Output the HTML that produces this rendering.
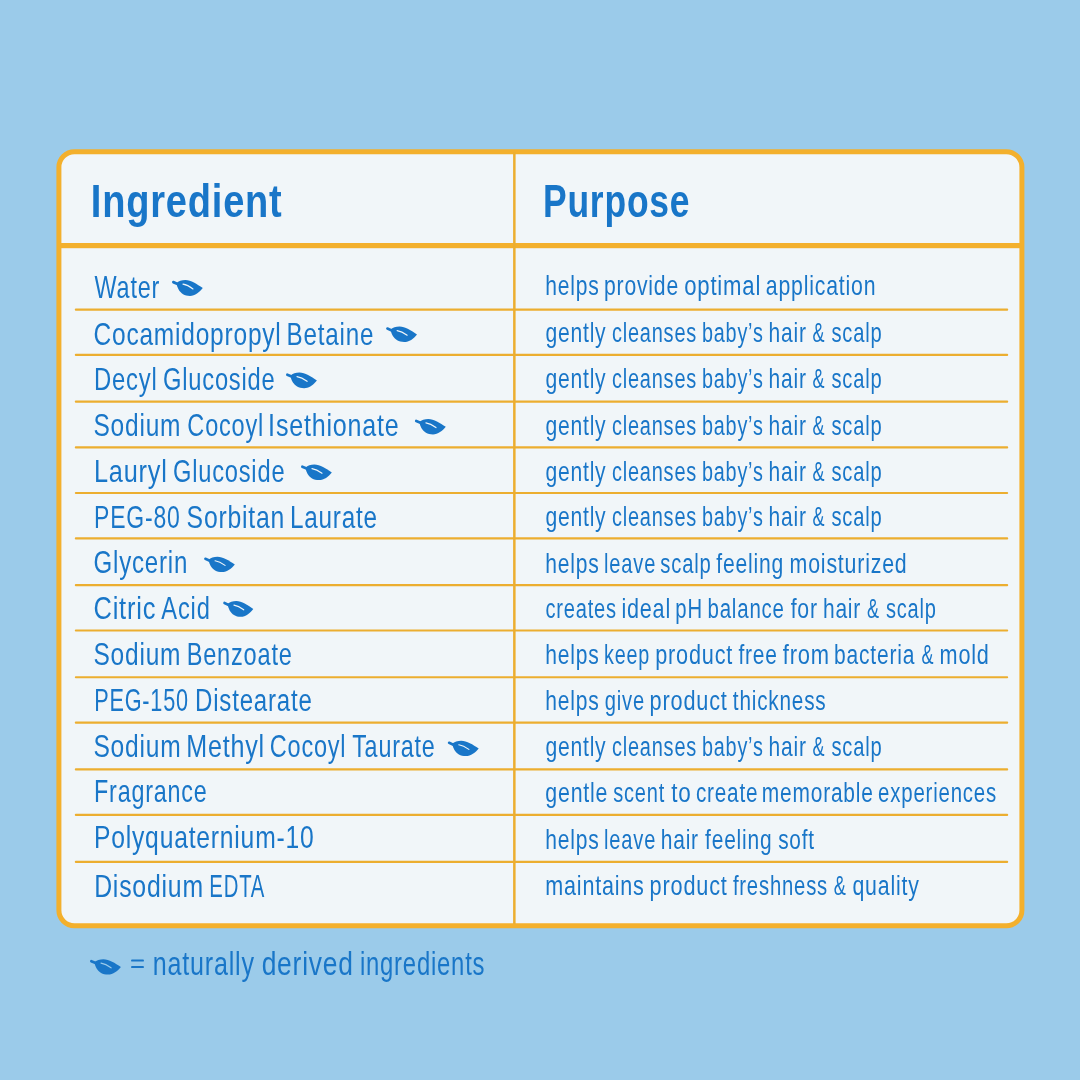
<!DOCTYPE html><html><head><meta charset="utf-8"><style>html,body{margin:0;padding:0;background:#9bcbea;width:1080px;height:1080px;overflow:hidden}svg{display:block;will-change:transform}text{font-family:"Liberation Sans",sans-serif}</style></head><body>
<svg width="1080" height="1080" viewBox="0 0 1080 1080">
<rect x="58.9" y="151.7" width="963" height="774" rx="15.5" ry="15.5" fill="#f1f6f9" stroke="#f3b02d" stroke-width="5"/>
<rect x="61" y="243" width="959" height="5.2" fill="#f3b02d"/>
<rect x="513.1" y="152" width="2.5" height="772" fill="#ecae30"/>
<rect x="74.8" y="308.62" width="933.4" height="2.15" rx="1" fill="#ecae30"/>
<rect x="74.8" y="353.82" width="933.4" height="2.15" rx="1" fill="#ecae30"/>
<rect x="74.8" y="400.62" width="933.4" height="2.15" rx="1" fill="#ecae30"/>
<rect x="74.8" y="446.32" width="933.4" height="2.15" rx="1" fill="#ecae30"/>
<rect x="74.8" y="491.93" width="933.4" height="2.15" rx="1" fill="#ecae30"/>
<rect x="74.8" y="537.32" width="933.4" height="2.15" rx="1" fill="#ecae30"/>
<rect x="74.8" y="584.02" width="933.4" height="2.15" rx="1" fill="#ecae30"/>
<rect x="74.8" y="629.42" width="933.4" height="2.15" rx="1" fill="#ecae30"/>
<rect x="74.8" y="676.22" width="933.4" height="2.15" rx="1" fill="#ecae30"/>
<rect x="74.8" y="721.62" width="933.4" height="2.15" rx="1" fill="#ecae30"/>
<rect x="74.8" y="768.32" width="933.4" height="2.15" rx="1" fill="#ecae30"/>
<rect x="74.8" y="813.82" width="933.4" height="2.15" rx="1" fill="#ecae30"/>
<rect x="74.8" y="860.82" width="933.4" height="2.15" rx="1" fill="#ecae30"/>
<text transform="translate(94.53 298.40) scale(0.7557 1)" font-size="31" font-weight="normal" letter-spacing="1.059" fill="#1976c8">Water</text>
<text transform="translate(93.51 344.70) scale(0.7902 1)" font-size="31" font-weight="normal" letter-spacing="1.012" fill="#1976c8">Cocamidopropyl</text>
<text transform="translate(286.49 344.70) scale(0.7811 1)" font-size="31" font-weight="normal" letter-spacing="1.024" fill="#1976c8">Betaine</text>
<text transform="translate(94.02 390.20) scale(0.7692 1)" font-size="31" font-weight="normal" letter-spacing="1.040" fill="#1976c8">Decyl</text>
<text transform="translate(162.97 390.20) scale(0.7646 1)" font-size="31" font-weight="normal" letter-spacing="1.046" fill="#1976c8">Glucoside</text>
<text transform="translate(93.43 436.30) scale(0.7905 1)" font-size="31" font-weight="normal" letter-spacing="1.012" fill="#1976c8">Sodium</text>
<text transform="translate(187.37 436.30) scale(0.7581 1)" font-size="31" font-weight="normal" letter-spacing="1.055" fill="#1976c8">Cocoyl</text>
<text transform="translate(268.11 436.30) scale(0.8089 1)" font-size="31" font-weight="normal" letter-spacing="0.989" fill="#1976c8">Isethionate</text>
<text transform="translate(93.90 482.10) scale(0.8167 1)" font-size="31" font-weight="normal" letter-spacing="0.980" fill="#1976c8">Lauryl</text>
<text transform="translate(172.97 482.10) scale(0.7632 1)" font-size="31" font-weight="normal" letter-spacing="1.048" fill="#1976c8">Glucoside</text>
<text transform="translate(94.09 528.00) scale(0.7411 1)" font-size="31" font-weight="normal" letter-spacing="1.079" fill="#1976c8">PEG-80</text>
<text transform="translate(186.62 528.00) scale(0.7984 1)" font-size="31" font-weight="normal" letter-spacing="1.002" fill="#1976c8">Sorbitan</text>
<text transform="translate(289.88 528.00) scale(0.7840 1)" font-size="31" font-weight="normal" letter-spacing="1.020" fill="#1976c8">Laurate</text>
<text transform="translate(93.55 573.30) scale(0.7759 1)" font-size="31" font-weight="normal" letter-spacing="1.031" fill="#1976c8">Glycerin</text>
<text transform="translate(93.46 619.20) scale(0.8208 1)" font-size="31" font-weight="normal" letter-spacing="0.975" fill="#1976c8">Citric</text>
<text transform="translate(161.33 619.20) scale(0.7643 1)" font-size="31" font-weight="normal" letter-spacing="1.047" fill="#1976c8">Acid</text>
<text transform="translate(93.43 665.10) scale(0.7905 1)" font-size="31" font-weight="normal" letter-spacing="1.012" fill="#1976c8">Sodium</text>
<text transform="translate(186.64 665.10) scale(0.7611 1)" font-size="31" font-weight="normal" letter-spacing="1.051" fill="#1976c8">Benzoate</text>
<text transform="translate(94.20 711.00) scale(0.6988 1)" font-size="31" font-weight="normal" letter-spacing="1.145" fill="#1976c8">PEG-150</text>
<text transform="translate(195.00 711.00) scale(0.7766 1)" font-size="31" font-weight="normal" letter-spacing="1.030" fill="#1976c8">Distearate</text>
<text transform="translate(93.42 757.00) scale(0.7935 1)" font-size="31" font-weight="normal" letter-spacing="1.008" fill="#1976c8">Sodium</text>
<text transform="translate(186.21 757.00) scale(0.8107 1)" font-size="31" font-weight="normal" letter-spacing="0.987" fill="#1976c8">Methyl</text>
<text transform="translate(269.77 757.00) scale(0.7581 1)" font-size="31" font-weight="normal" letter-spacing="1.055" fill="#1976c8">Cocoyl</text>
<text transform="translate(352.16 757.00) scale(0.7525 1)" font-size="31" font-weight="normal" letter-spacing="1.063" fill="#1976c8">Taurate</text>
<text transform="translate(94.06 802.40) scale(0.7526 1)" font-size="31" font-weight="normal" letter-spacing="1.063" fill="#1976c8">Fragrance</text>
<text transform="translate(93.95 848.40) scale(0.7958 1)" font-size="31" font-weight="normal" letter-spacing="1.005" fill="#1976c8">Polyquaternium-10</text>
<text transform="translate(94.14 896.70) scale(0.8004 1)" font-size="31" font-weight="normal" letter-spacing="0.999" fill="#1976c8">Disodium</text>
<text transform="translate(209.31 896.70) scale(0.6562 1)" font-size="31" font-weight="normal" letter-spacing="1.219" fill="#1976c8">EDTA</text>
<text transform="translate(545.31 295.00) scale(0.7512 1)" font-size="28" font-weight="normal" letter-spacing="1.065" fill="#1976c8">helps</text>
<text transform="translate(604.05 295.00) scale(0.7552 1)" font-size="28" font-weight="normal" letter-spacing="1.059" fill="#1976c8">provide</text>
<text transform="translate(684.24 295.00) scale(0.7899 1)" font-size="28" font-weight="normal" letter-spacing="1.013" fill="#1976c8">optimal</text>
<text transform="translate(765.87 295.00) scale(0.7592 1)" font-size="28" font-weight="normal" letter-spacing="1.054" fill="#1976c8">application</text>
<text transform="translate(545.38 342.20) scale(0.7536 1)" font-size="28" font-weight="normal" letter-spacing="1.062" fill="#1976c8">gently</text>
<text transform="translate(611.92 342.20) scale(0.7129 1)" font-size="28" font-weight="normal" letter-spacing="1.122" fill="#1976c8">cleanses</text>
<text transform="translate(701.93 342.20) scale(0.7075 1)" font-size="28" font-weight="normal" letter-spacing="1.131" fill="#1976c8">baby’s</text>
<text transform="translate(768.51 342.20) scale(0.7501 1)" font-size="28" font-weight="normal" letter-spacing="1.067" fill="#1976c8">hair</text>
<text transform="translate(812.62 342.20) scale(0.6427 1)" font-size="28" font-weight="normal" letter-spacing="0.000" fill="#1976c8">&amp;</text>
<text transform="translate(831.47 342.20) scale(0.7195 1)" font-size="28" font-weight="normal" letter-spacing="1.112" fill="#1976c8">scalp</text>
<text transform="translate(545.38 388.00) scale(0.7536 1)" font-size="28" font-weight="normal" letter-spacing="1.062" fill="#1976c8">gently</text>
<text transform="translate(611.92 388.00) scale(0.7129 1)" font-size="28" font-weight="normal" letter-spacing="1.122" fill="#1976c8">cleanses</text>
<text transform="translate(701.93 388.00) scale(0.7075 1)" font-size="28" font-weight="normal" letter-spacing="1.131" fill="#1976c8">baby’s</text>
<text transform="translate(768.51 388.00) scale(0.7501 1)" font-size="28" font-weight="normal" letter-spacing="1.067" fill="#1976c8">hair</text>
<text transform="translate(812.62 388.00) scale(0.6427 1)" font-size="28" font-weight="normal" letter-spacing="0.000" fill="#1976c8">&amp;</text>
<text transform="translate(831.47 388.00) scale(0.7195 1)" font-size="28" font-weight="normal" letter-spacing="1.112" fill="#1976c8">scalp</text>
<text transform="translate(545.38 434.90) scale(0.7536 1)" font-size="28" font-weight="normal" letter-spacing="1.062" fill="#1976c8">gently</text>
<text transform="translate(611.92 434.90) scale(0.7129 1)" font-size="28" font-weight="normal" letter-spacing="1.122" fill="#1976c8">cleanses</text>
<text transform="translate(701.93 434.90) scale(0.7075 1)" font-size="28" font-weight="normal" letter-spacing="1.131" fill="#1976c8">baby’s</text>
<text transform="translate(768.51 434.90) scale(0.7501 1)" font-size="28" font-weight="normal" letter-spacing="1.067" fill="#1976c8">hair</text>
<text transform="translate(812.62 434.90) scale(0.6427 1)" font-size="28" font-weight="normal" letter-spacing="0.000" fill="#1976c8">&amp;</text>
<text transform="translate(831.47 434.90) scale(0.7195 1)" font-size="28" font-weight="normal" letter-spacing="1.112" fill="#1976c8">scalp</text>
<text transform="translate(545.38 480.60) scale(0.7536 1)" font-size="28" font-weight="normal" letter-spacing="1.062" fill="#1976c8">gently</text>
<text transform="translate(611.92 480.60) scale(0.7129 1)" font-size="28" font-weight="normal" letter-spacing="1.122" fill="#1976c8">cleanses</text>
<text transform="translate(701.93 480.60) scale(0.7075 1)" font-size="28" font-weight="normal" letter-spacing="1.131" fill="#1976c8">baby’s</text>
<text transform="translate(768.51 480.60) scale(0.7501 1)" font-size="28" font-weight="normal" letter-spacing="1.067" fill="#1976c8">hair</text>
<text transform="translate(812.62 480.60) scale(0.6427 1)" font-size="28" font-weight="normal" letter-spacing="0.000" fill="#1976c8">&amp;</text>
<text transform="translate(831.47 480.60) scale(0.7195 1)" font-size="28" font-weight="normal" letter-spacing="1.112" fill="#1976c8">scalp</text>
<text transform="translate(545.38 526.30) scale(0.7536 1)" font-size="28" font-weight="normal" letter-spacing="1.062" fill="#1976c8">gently</text>
<text transform="translate(611.92 526.30) scale(0.7129 1)" font-size="28" font-weight="normal" letter-spacing="1.122" fill="#1976c8">cleanses</text>
<text transform="translate(701.93 526.30) scale(0.7075 1)" font-size="28" font-weight="normal" letter-spacing="1.131" fill="#1976c8">baby’s</text>
<text transform="translate(768.51 526.30) scale(0.7501 1)" font-size="28" font-weight="normal" letter-spacing="1.067" fill="#1976c8">hair</text>
<text transform="translate(812.62 526.30) scale(0.6427 1)" font-size="28" font-weight="normal" letter-spacing="0.000" fill="#1976c8">&amp;</text>
<text transform="translate(831.47 526.30) scale(0.7195 1)" font-size="28" font-weight="normal" letter-spacing="1.112" fill="#1976c8">scalp</text>
<text transform="translate(545.31 573.05) scale(0.7512 1)" font-size="28" font-weight="normal" letter-spacing="1.065" fill="#1976c8">helps</text>
<text transform="translate(604.09 573.05) scale(0.7177 1)" font-size="28" font-weight="normal" letter-spacing="1.115" fill="#1976c8">leave</text>
<text transform="translate(660.37 573.05) scale(0.7227 1)" font-size="28" font-weight="normal" letter-spacing="1.107" fill="#1976c8">scalp</text>
<text transform="translate(716.27 573.05) scale(0.7541 1)" font-size="28" font-weight="normal" letter-spacing="1.061" fill="#1976c8">feeling</text>
<text transform="translate(789.60 573.05) scale(0.7627 1)" font-size="28" font-weight="normal" letter-spacing="1.049" fill="#1976c8">moisturized</text>
<text transform="translate(545.41 617.50) scale(0.7181 1)" font-size="28" font-weight="normal" letter-spacing="1.114" fill="#1976c8">creates</text>
<text transform="translate(621.39 617.50) scale(0.7714 1)" font-size="28" font-weight="normal" letter-spacing="1.037" fill="#1976c8">ideal</text>
<text transform="translate(675.30 617.50) scale(0.7251 1)" font-size="28" font-weight="normal" letter-spacing="1.103" fill="#1976c8">pH</text>
<text transform="translate(707.49 617.50) scale(0.7313 1)" font-size="28" font-weight="normal" letter-spacing="1.094" fill="#1976c8">balance</text>
<text transform="translate(790.67 617.50) scale(0.7577 1)" font-size="28" font-weight="normal" letter-spacing="1.056" fill="#1976c8">for</text>
<text transform="translate(822.91 617.50) scale(0.7501 1)" font-size="28" font-weight="normal" letter-spacing="1.067" fill="#1976c8">hair</text>
<text transform="translate(867.12 617.50) scale(0.6427 1)" font-size="28" font-weight="normal" letter-spacing="0.000" fill="#1976c8">&amp;</text>
<text transform="translate(885.97 617.50) scale(0.7164 1)" font-size="28" font-weight="normal" letter-spacing="1.117" fill="#1976c8">scalp</text>
<text transform="translate(545.31 663.90) scale(0.7512 1)" font-size="28" font-weight="normal" letter-spacing="1.065" fill="#1976c8">helps</text>
<text transform="translate(604.11 663.90) scale(0.7062 1)" font-size="28" font-weight="normal" letter-spacing="1.133" fill="#1976c8">keep</text>
<text transform="translate(655.21 663.90) scale(0.7744 1)" font-size="28" font-weight="normal" letter-spacing="1.033" fill="#1976c8">product</text>
<text transform="translate(738.47 663.90) scale(0.7482 1)" font-size="28" font-weight="normal" letter-spacing="1.069" fill="#1976c8">free</text>
<text transform="translate(782.86 663.90) scale(0.7830 1)" font-size="28" font-weight="normal" letter-spacing="1.022" fill="#1976c8">from</text>
<text transform="translate(834.05 663.90) scale(0.7507 1)" font-size="28" font-weight="normal" letter-spacing="1.066" fill="#1976c8">bacteria</text>
<text transform="translate(921.52 663.90) scale(0.6427 1)" font-size="28" font-weight="normal" letter-spacing="0.000" fill="#1976c8">&amp;</text>
<text transform="translate(939.58 663.90) scale(0.7740 1)" font-size="28" font-weight="normal" letter-spacing="1.034" fill="#1976c8">mold</text>
<text transform="translate(545.31 709.90) scale(0.7512 1)" font-size="28" font-weight="normal" letter-spacing="1.065" fill="#1976c8">helps</text>
<text transform="translate(604.71 709.90) scale(0.7207 1)" font-size="28" font-weight="normal" letter-spacing="1.110" fill="#1976c8">give</text>
<text transform="translate(649.61 709.90) scale(0.7755 1)" font-size="28" font-weight="normal" letter-spacing="1.032" fill="#1976c8">product</text>
<text transform="translate(732.85 709.90) scale(0.7414 1)" font-size="28" font-weight="normal" letter-spacing="1.079" fill="#1976c8">thickness</text>
<text transform="translate(545.38 756.20) scale(0.7536 1)" font-size="28" font-weight="normal" letter-spacing="1.062" fill="#1976c8">gently</text>
<text transform="translate(611.92 756.20) scale(0.7129 1)" font-size="28" font-weight="normal" letter-spacing="1.122" fill="#1976c8">cleanses</text>
<text transform="translate(701.93 756.20) scale(0.7075 1)" font-size="28" font-weight="normal" letter-spacing="1.131" fill="#1976c8">baby’s</text>
<text transform="translate(768.51 756.20) scale(0.7501 1)" font-size="28" font-weight="normal" letter-spacing="1.067" fill="#1976c8">hair</text>
<text transform="translate(812.62 756.20) scale(0.6427 1)" font-size="28" font-weight="normal" letter-spacing="0.000" fill="#1976c8">&amp;</text>
<text transform="translate(831.47 756.20) scale(0.7195 1)" font-size="28" font-weight="normal" letter-spacing="1.112" fill="#1976c8">scalp</text>
<text transform="translate(545.37 801.90) scale(0.7622 1)" font-size="28" font-weight="normal" letter-spacing="1.050" fill="#1976c8">gentle</text>
<text transform="translate(613.27 801.90) scale(0.7142 1)" font-size="28" font-weight="normal" letter-spacing="1.120" fill="#1976c8">scent</text>
<text transform="translate(671.33 801.90) scale(0.8032 1)" font-size="28" font-weight="normal" letter-spacing="0.996" fill="#1976c8">to</text>
<text transform="translate(695.89 801.90) scale(0.7413 1)" font-size="28" font-weight="normal" letter-spacing="1.079" fill="#1976c8">create</text>
<text transform="translate(761.83 801.90) scale(0.7474 1)" font-size="28" font-weight="normal" letter-spacing="1.070" fill="#1976c8">memorable</text>
<text transform="translate(878.10 801.90) scale(0.7293 1)" font-size="28" font-weight="normal" letter-spacing="1.097" fill="#1976c8">experiences</text>
<text transform="translate(545.31 848.50) scale(0.7512 1)" font-size="28" font-weight="normal" letter-spacing="1.065" fill="#1976c8">helps</text>
<text transform="translate(604.09 848.50) scale(0.7177 1)" font-size="28" font-weight="normal" letter-spacing="1.115" fill="#1976c8">leave</text>
<text transform="translate(660.71 848.50) scale(0.7501 1)" font-size="28" font-weight="normal" letter-spacing="1.067" fill="#1976c8">hair</text>
<text transform="translate(705.07 848.50) scale(0.7491 1)" font-size="28" font-weight="normal" letter-spacing="1.068" fill="#1976c8">feeling</text>
<text transform="translate(778.15 848.50) scale(0.7439 1)" font-size="28" font-weight="normal" letter-spacing="1.075" fill="#1976c8">soft</text>
<text transform="translate(545.29 894.70) scale(0.7695 1)" font-size="28" font-weight="normal" letter-spacing="1.040" fill="#1976c8">maintains</text>
<text transform="translate(649.61 894.70) scale(0.7755 1)" font-size="28" font-weight="normal" letter-spacing="1.032" fill="#1976c8">product</text>
<text transform="translate(732.88 894.70) scale(0.7253 1)" font-size="28" font-weight="normal" letter-spacing="1.103" fill="#1976c8">freshness</text>
<text transform="translate(833.71 894.70) scale(0.6484 1)" font-size="28" font-weight="normal" letter-spacing="0.000" fill="#1976c8">&amp;</text>
<text transform="translate(852.47 894.70) scale(0.7614 1)" font-size="28" font-weight="normal" letter-spacing="1.051" fill="#1976c8">quality</text>
<text transform="translate(90.80 216.80) scale(0.8177 1)" font-size="46.5" font-weight="bold" letter-spacing="0.978" fill="#1976c8">Ingredient</text>
<text transform="translate(542.96 216.80) scale(0.7625 1)" font-size="46.5" font-weight="bold" letter-spacing="1.049" fill="#1976c8">Purpose</text>
<rect x="131.1" y="959.4" width="12.8" height="2.2" rx="0.9" fill="#1976c8"/><rect x="131.1" y="965.95" width="12.8" height="2.15" rx="0.9" fill="#1976c8"/>
<text transform="translate(152.81 974.50) scale(0.7601 1)" font-size="33" font-weight="normal" letter-spacing="1.053" fill="#1976c8">naturally</text>
<text transform="translate(261.64 974.50) scale(0.8001 1)" font-size="33" font-weight="normal" letter-spacing="1.000" fill="#1976c8">derived</text>
<text transform="translate(359.88 974.50) scale(0.7227 1)" font-size="33" font-weight="normal" letter-spacing="1.107" fill="#1976c8">ingredients</text>
<g transform="translate(172.00 280.00) scale(1.0000 1.0667)"><path d="M4.4,3.0 C6.5,0.9 9.8,0 13.4,0 C19,0 25,3.8 30.8,7.6 C27.5,11.6 23,15 18,15 C12.5,15 8.8,12.6 6.6,9.0 C5.5,7.2 4.8,5.0 4.4,3.0 Z" fill="#1976c8"/><path d="M1.3,2.0 L5.6,3.8" stroke="#1976c8" stroke-width="2.6" stroke-linecap="round"/><path d="M11.0,3.9 Q15.6,4.6 21.0,8.4" stroke="#f1f6f9" stroke-width="1.15" fill="none" stroke-linecap="round"/></g>
<g transform="translate(386.10 326.50) scale(1.0032 1.0400)"><path d="M4.4,3.0 C6.5,0.9 9.8,0 13.4,0 C19,0 25,3.8 30.8,7.6 C27.5,11.6 23,15 18,15 C12.5,15 8.8,12.6 6.6,9.0 C5.5,7.2 4.8,5.0 4.4,3.0 Z" fill="#1976c8"/><path d="M1.3,2.0 L5.6,3.8" stroke="#1976c8" stroke-width="2.6" stroke-linecap="round"/><path d="M11.0,3.9 Q15.6,4.6 21.0,8.4" stroke="#f1f6f9" stroke-width="1.15" fill="none" stroke-linecap="round"/></g>
<g transform="translate(286.00 372.60) scale(1.0032 1.0400)"><path d="M4.4,3.0 C6.5,0.9 9.8,0 13.4,0 C19,0 25,3.8 30.8,7.6 C27.5,11.6 23,15 18,15 C12.5,15 8.8,12.6 6.6,9.0 C5.5,7.2 4.8,5.0 4.4,3.0 Z" fill="#1976c8"/><path d="M1.3,2.0 L5.6,3.8" stroke="#1976c8" stroke-width="2.6" stroke-linecap="round"/><path d="M11.0,3.9 Q15.6,4.6 21.0,8.4" stroke="#f1f6f9" stroke-width="1.15" fill="none" stroke-linecap="round"/></g>
<g transform="translate(414.90 418.90) scale(1.0032 1.0333)"><path d="M4.4,3.0 C6.5,0.9 9.8,0 13.4,0 C19,0 25,3.8 30.8,7.6 C27.5,11.6 23,15 18,15 C12.5,15 8.8,12.6 6.6,9.0 C5.5,7.2 4.8,5.0 4.4,3.0 Z" fill="#1976c8"/><path d="M1.3,2.0 L5.6,3.8" stroke="#1976c8" stroke-width="2.6" stroke-linecap="round"/><path d="M11.0,3.9 Q15.6,4.6 21.0,8.4" stroke="#f1f6f9" stroke-width="1.15" fill="none" stroke-linecap="round"/></g>
<g transform="translate(301.00 464.60) scale(1.0000 1.0333)"><path d="M4.4,3.0 C6.5,0.9 9.8,0 13.4,0 C19,0 25,3.8 30.8,7.6 C27.5,11.6 23,15 18,15 C12.5,15 8.8,12.6 6.6,9.0 C5.5,7.2 4.8,5.0 4.4,3.0 Z" fill="#1976c8"/><path d="M1.3,2.0 L5.6,3.8" stroke="#1976c8" stroke-width="2.6" stroke-linecap="round"/><path d="M11.0,3.9 Q15.6,4.6 21.0,8.4" stroke="#f1f6f9" stroke-width="1.15" fill="none" stroke-linecap="round"/></g>
<g transform="translate(204.10 556.80) scale(0.9968 1.0200)"><path d="M4.4,3.0 C6.5,0.9 9.8,0 13.4,0 C19,0 25,3.8 30.8,7.6 C27.5,11.6 23,15 18,15 C12.5,15 8.8,12.6 6.6,9.0 C5.5,7.2 4.8,5.0 4.4,3.0 Z" fill="#1976c8"/><path d="M1.3,2.0 L5.6,3.8" stroke="#1976c8" stroke-width="2.6" stroke-linecap="round"/><path d="M11.0,3.9 Q15.6,4.6 21.0,8.4" stroke="#f1f6f9" stroke-width="1.15" fill="none" stroke-linecap="round"/></g>
<g transform="translate(223.20 600.90) scale(0.9774 1.0600)"><path d="M4.4,3.0 C6.5,0.9 9.8,0 13.4,0 C19,0 25,3.8 30.8,7.6 C27.5,11.6 23,15 18,15 C12.5,15 8.8,12.6 6.6,9.0 C5.5,7.2 4.8,5.0 4.4,3.0 Z" fill="#1976c8"/><path d="M1.3,2.0 L5.6,3.8" stroke="#1976c8" stroke-width="2.6" stroke-linecap="round"/><path d="M11.0,3.9 Q15.6,4.6 21.0,8.4" stroke="#f1f6f9" stroke-width="1.15" fill="none" stroke-linecap="round"/></g>
<g transform="translate(447.80 740.80) scale(1.0032 1.0200)"><path d="M4.4,3.0 C6.5,0.9 9.8,0 13.4,0 C19,0 25,3.8 30.8,7.6 C27.5,11.6 23,15 18,15 C12.5,15 8.8,12.6 6.6,9.0 C5.5,7.2 4.8,5.0 4.4,3.0 Z" fill="#1976c8"/><path d="M1.3,2.0 L5.6,3.8" stroke="#1976c8" stroke-width="2.6" stroke-linecap="round"/><path d="M11.0,3.9 Q15.6,4.6 21.0,8.4" stroke="#f1f6f9" stroke-width="1.15" fill="none" stroke-linecap="round"/></g>
<g transform="translate(90.00 959.20) scale(1.0032 1.0267)"><path d="M4.4,3.0 C6.5,0.9 9.8,0 13.4,0 C19,0 25,3.8 30.8,7.6 C27.5,11.6 23,15 18,15 C12.5,15 8.8,12.6 6.6,9.0 C5.5,7.2 4.8,5.0 4.4,3.0 Z" fill="#1976c8"/><path d="M1.3,2.0 L5.6,3.8" stroke="#1976c8" stroke-width="2.6" stroke-linecap="round"/><path d="M11.0,3.9 Q15.6,4.6 21.0,8.4" stroke="#9bcbea" stroke-width="1.15" fill="none" stroke-linecap="round"/></g>
</svg></body></html>
